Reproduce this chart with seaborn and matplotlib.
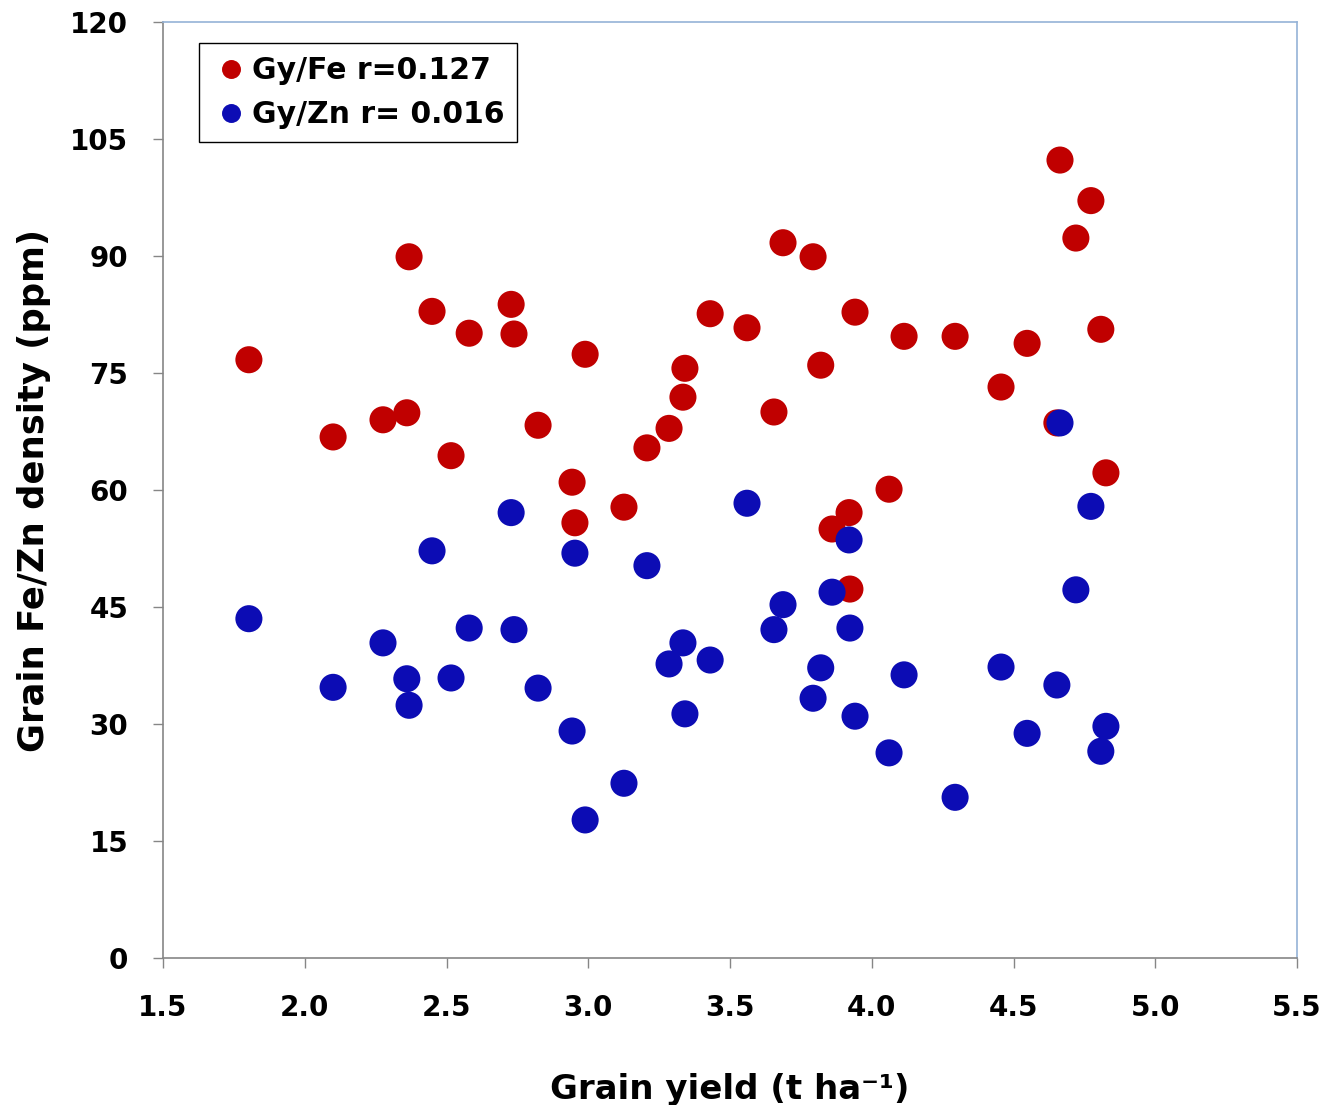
import matplotlib
matplotlib.use("Agg")
import matplotlib.pyplot as plt
import seaborn as sns
import pandas as pd

# Grain yield (t/ha) for each genotype
grain_yield = [1.803, 2.100, 2.276, 2.360, 2.368, 2.449, 2.516, 2.580, 2.728, 2.738,
               2.823, 2.943, 2.953, 2.989, 3.126, 3.207, 3.285, 3.334, 3.341, 3.430,
               3.560, 3.655, 3.687, 3.793, 3.820, 3.860, 3.920, 3.923, 3.941, 4.061,
               4.114, 4.294, 4.456, 4.548, 4.653, 4.664, 4.720, 4.773, 4.808, 4.826]
# Grain Fe density (ppm)
fe_ppm = [76.7, 66.8, 69.0, 69.9, 89.9, 82.9, 64.4, 80.1, 83.8, 80.0,
          68.3, 61.0, 55.8, 77.4, 57.8, 65.4, 67.9, 71.9, 75.6, 82.6,
          80.8, 70.0, 91.7, 89.9, 76.0, 55.0, 57.1, 47.3, 82.8, 60.1,
          79.7, 79.7, 73.2, 78.8, 68.6, 102.3, 92.3, 97.1, 80.6, 62.2]
# Grain Zn density (ppm)
zn_ppm = [43.5, 34.7, 40.4, 35.8, 32.4, 52.2, 35.9, 42.3, 57.1, 42.1,
          34.6, 29.1, 51.9, 17.7, 22.4, 50.3, 37.7, 40.4, 31.3, 38.2,
          58.3, 42.1, 45.3, 33.3, 37.2, 46.9, 53.6, 42.3, 31.0, 26.3,
          36.3, 20.6, 37.3, 28.8, 35.0, 68.6, 47.2, 57.9, 26.5, 29.7]

series_labels = ["Gy/Fe r=0.127", "Gy/Zn r= 0.016"]
x_ticks = [1.5, 2.0, 2.5, 3.0, 3.5, 4.0, 4.5, 5.0, 5.5]
y_ticks = [0, 15, 30, 45, 60, 75, 90, 105, 120]

df = pd.concat([
    pd.DataFrame({"x": grain_yield, "y": fe_ppm, "series": series_labels[0]}),
    pd.DataFrame({"x": grain_yield, "y": zn_ppm, "series": series_labels[1]}),
], ignore_index=True)

sns.set_style("white")
plt.rcParams["font.family"] = ["DejaVu Sans"]
plt.rcParams["font.weight"] = "bold"
plt.rcParams["text.color"] = "black"
plt.rcParams["axes.labelcolor"] = "black"
plt.rcParams["xtick.color"] = "black"
plt.rcParams["ytick.color"] = "black"

fig = plt.figure(figsize=(13.32, 11.05), dpi=100)
ax = fig.add_axes([163/1332, 1-958/1105, (1297-163)/1332, (958-22)/1105])

palette = {series_labels[0]: "#C00000", series_labels[1]: "#0C0CB4"}
sns.scatterplot(data=df, x="x", y="y", hue="series", palette=palette,
                s=380, edgecolor="none", linewidth=0, ax=ax, legend=True)

ax.set_xlim(1.5, 5.5)
ax.set_ylim(0, 120)
ax.set_xticks(x_ticks)
ax.set_xticklabels([f"{v:.1f}" for v in x_ticks])
ax.set_yticks(y_ticks)
ax.set_yticklabels([str(v) for v in y_ticks])
ax.tick_params(axis="both", direction="out", length=7, width=1, color="#868686",
               labelsize=20, labelcolor="black")
ax.tick_params(axis="x", pad=19, bottom=True)
ax.tick_params(axis="y", pad=18, left=True)
for lbl in ax.get_xticklabels() + ax.get_yticklabels():
    lbl.set_fontweight("bold")

for side in ["left", "bottom"]:
    ax.spines[side].set_color("#868686")
    ax.spines[side].set_linewidth(1.2)
for side in ["top", "right"]:
    ax.spines[side].set_color("#95B3D7")
    ax.spines[side].set_linewidth(1.2)

ax.set_xlabel("Grain yield (t ha\u207b\u00b9)", fontsize=24.5, fontweight="bold", labelpad=37)
ax.set_ylabel("Grain Fe/Zn density (ppm)", fontsize=25.5, fontweight="bold", labelpad=14)

handles, labels = ax.get_legend_handles_labels()
leg = ax.legend(handles, labels, loc="upper left", bbox_to_anchor=(0.032, 0.978),
                frameon=True, fancybox=False, edgecolor="black", framealpha=1,
                prop={"size": 21.5, "weight": "bold"}, markerscale=0.7,
                handletextpad=0.1, handlelength=1.2, borderpad=0.45,
                labelspacing=0.5, borderaxespad=0)
leg.get_frame().set_linewidth(1.0)
for t in leg.get_texts():
    t.set_color("black")

fig.savefig("out.png", dpi=100)
